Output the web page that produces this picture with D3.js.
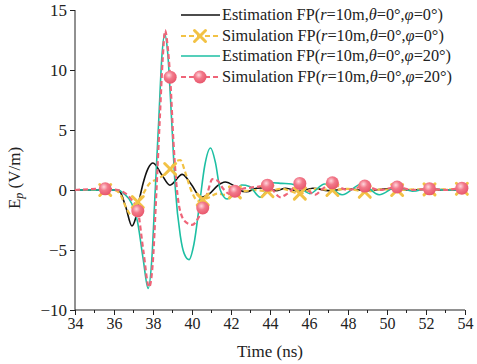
<!DOCTYPE html>
<html><head><meta charset="utf-8">
<script src="https://cdn.jsdelivr.net/npm/d3@7"></script>
<style>body{margin:0;background:#fff}svg{display:block}</style>
</head><body>
<script>
// ---- data ----
const xTicks = [34,36,38,40,42,44,46,48,50,52,54];
const yTicks = [-10,-5,0,5,10,15];

const estPhi0 = [[34,0],[35,0],[36,0],[36.3,-0.15],[36.6,-1.4],[36.92,-3.0],[37.1,-2.4],[37.3,-0.8],[37.5,0.6],[37.75,1.8],[38.0,2.25],[38.46,1.25],[38.87,0.4],[39.5,1.3],[39.95,0.5],[40.45,-0.6],[40.9,-0.3],[41.3,0.35],[41.7,0.67],[42.1,0.4],[42.4,0],[42.8,-0.15],[43.3,0.15],[43.8,0.2],[44.3,-0.05],[44.8,0.15],[45.5,-0.1],[46.2,0.15],[47,-0.05],[48,0.1],[49,-0.05],[50,0.1],[51,0],[52,0.05],[53,0],[54,0]];

const simPhi0 = [[34,0],[35.55,0],[36.0,0],[36.3,-0.3],[36.6,-1.4],[36.9,-2.1],[37.22,-1.0],[37.5,-0.3],[37.8,0.5],[38.2,0.9],[38.6,1.3],[38.88,1.75],[39.2,2.4],[39.4,2.5],[39.65,1.5],[39.95,0],[40.3,-0.9],[40.55,-0.8],[40.9,-0.6],[41.3,-0.3],[41.7,-0.4],[42.2,-0.2],[42.7,-0.1],[43.2,0],[43.87,-0.1],[44.6,0.1],[45.53,-0.3],[46.3,0.1],[47.2,0],[48.0,0.1],[48.86,-0.15],[49.7,0.05],[50.52,0],[51.4,0.05],[52.18,0.05],[53,0.05],[53.84,0.1],[54,0.05]];

const estPhi20 = [[34,0],[36.2,0],[36.5,-0.3],[36.9,-1.1],[37.2,-2.6],[37.5,-5.8],[37.75,-8.2],[37.95,-5.5],[38.1,-0.5],[38.3,6],[38.45,11],[38.6,13.0],[38.75,11.5],[38.95,6],[39.15,0],[39.4,-3.8],[39.6,-5.3],[39.85,-5.8],[40.1,-4.5],[40.4,-1],[40.65,2],[40.95,3.5],[41.2,2.3],[41.45,0],[41.8,-0.75],[42.15,-0.3],[42.55,0.42],[42.95,0.3],[43.5,-0.6],[44.15,0.6],[44.6,0.55],[45.1,0.5],[45.5,0.25],[46.05,-0.3],[46.8,0.5],[47.7,-0.4],[48.7,0.5],[49.6,-0.4],[50.5,0.25],[51.3,-0.1],[52.2,0.15],[53,0],[54,0]];

const simPhi20 = [[34,0],[35.55,0.1],[36.2,0],[36.5,-0.2],[36.9,-0.8],[37.22,-1.75],[37.5,-5],[37.8,-8.1],[38.0,-5.8],[38.15,-1],[38.35,6],[38.5,11],[38.62,13.3],[38.75,12],[38.88,9.4],[39.05,4],[39.2,0.5],[39.4,-1.8],[39.7,-2.7],[40.0,-2.9],[40.3,-2.4],[40.55,-1.5],[40.8,-0.2],[41.05,0.9],[41.3,0.8],[41.6,0.1],[41.9,-0.3],[42.2,-0.1],[42.6,0.1],[43.0,0.2],[43.5,0.3],[43.87,0.4],[44.2,-0.1],[44.5,-0.6],[44.9,-0.3],[45.53,0.55],[46.0,-0.1],[46.3,-0.4],[46.7,0.1],[47.2,0.6],[47.6,0.2],[48.0,0],[48.86,0.33],[49.6,0],[50.52,0.25],[51.3,0],[52.18,0.1],[53,0],[53.84,0.15],[54,0.1]];

const markerTimes = [35.55,37.22,38.88,40.55,42.2,43.87,45.53,47.2,48.86,50.52,52.18,53.84];
const markerSimPhi0 = [0,-1.0,1.75,-0.8,-0.2,-0.1,-0.3,0,-0.15,0,0.05,0.1];
const markerSimPhi20 = [0.1,-1.75,9.4,-1.5,-0.1,0.4,0.55,0.6,0.33,0.25,0.1,0.15];

const legendLabels = [
  ["Estimation FP(", "r", "=10m,", "θ", "=0°,", "φ", "=0°)"],
  ["Simulation FP(", "r", "=10m,", "θ", "=0°,", "φ", "=0°)"],
  ["Estimation FP(", "r", "=10m,", "θ", "=0°,", "φ", "=20°)"],
  ["Simulation FP(", "r", "=10m,", "θ", "=0°,", "φ", "=20°)"]
];

// ---- drawing ----
const W = 477, H = 364;
const svg = d3.select("body").append("svg").attr("width", W).attr("height", H);
const font = "'Liberation Serif','Times New Roman',serif";

const x = d3.scaleLinear().domain([34,54]).range([75,465]);
const y = d3.scaleLinear().domain([-10,15]).range([310,10]);

const cBlack = "#111", cYellow = "#F2C245", cCyan = "#1DBFA3", cPink = "#EF6478";

const defs = svg.append("defs");
const grad = defs.append("radialGradient").attr("id","ball").attr("cx","40%").attr("cy","35%").attr("r","65%");
grad.append("stop").attr("offset","0%").attr("stop-color","#ffd6dc");
grad.append("stop").attr("offset","45%").attr("stop-color","#f2798a");
grad.append("stop").attr("offset","100%").attr("stop-color","#e8576c");

// axes
const xAxis = d3.axisBottom(x).tickValues(xTicks).tickSize(5).tickPadding(3).tickFormat(d3.format("d"));
const gx = svg.append("g").attr("transform", `translate(0,${y(-10)})`).call(xAxis);
gx.selectAll("line").attr("stroke","#222");
gx.select(".domain").attr("stroke","#222").attr("d", `M${x(34)},0H${x(54)}`);
gx.selectAll("text").attr("font-family", font).attr("font-size", 16).attr("fill","#222");
// minor x ticks
svg.append("g").selectAll("line").data(d3.range(35,54,2)).join("line")
  .attr("x1", d=>x(d)).attr("x2", d=>x(d)).attr("y1", y(-10)).attr("y2", y(-10)+3).attr("stroke","#222");

const yAxis = d3.axisLeft(y).tickValues(yTicks).tickSize(5).tickPadding(3);
const gy = svg.append("g").attr("transform", `translate(${x(34)},0)`).call(yAxis);
gy.selectAll("line").attr("stroke","#222");
gy.select(".domain").attr("stroke","#222").attr("d", `M0,${y(15)}V${y(-10)}`);
gy.selectAll("text").attr("font-family", font).attr("font-size", 17).attr("fill","#222");

// axis titles
svg.append("text").attr("x", 270).attr("y", 357).attr("text-anchor","middle")
  .attr("font-family", font).attr("font-size", 17).attr("fill","#222").text("Time (ns)");
const yt = svg.append("text").attr("transform", `translate(20,178) rotate(-90)`).attr("text-anchor","middle")
  .attr("font-family", font).attr("font-size", 17).attr("fill","#222");
yt.append("tspan").text("E");
yt.append("tspan").attr("font-size", 12).attr("font-style","italic").attr("dy", 3).text("p");
yt.append("tspan").attr("dy", -3).text(" (V/m)");

const line = d3.line().x(d=>x(d[0])).y(d=>y(d[1])).curve(d3.curveMonotoneX);

function drawX(g, cx, cy) {
  const s = 5.5;
  g.append("path").attr("d", `M${cx-s},${cy-s}L${cx+s},${cy+s}M${cx-s},${cy+s}L${cx+s},${cy-s}`)
    .attr("stroke", cYellow).attr("stroke-width", 3).attr("stroke-linecap","round");
}
function drawBall(g, cx, cy) {
  g.append("circle").attr("cx", cx).attr("cy", cy).attr("r", 6.5).attr("fill","url(#ball)");
}

svg.append("path").datum(estPhi0).attr("d", line).attr("fill","none").attr("stroke", cBlack).attr("stroke-width", 1.6);
svg.append("path").datum(simPhi0).attr("d", line).attr("fill","none").attr("stroke", cYellow).attr("stroke-width", 2.2).attr("stroke-dasharray","5,3");
svg.append("path").datum(estPhi20).attr("d", line).attr("fill","none").attr("stroke", cCyan).attr("stroke-width", 1.6);
svg.append("path").datum(simPhi20).attr("d", line).attr("fill","none").attr("stroke", cPink).attr("stroke-width", 2.2).attr("stroke-dasharray","5,3");

const gm = svg.append("g");
markerTimes.forEach((t,i)=> drawX(gm, x(t), y(markerSimPhi0[i])));
markerTimes.forEach((t,i)=> drawBall(gm, x(t), y(markerSimPhi20[i])));

// legend
const lg = svg.append("g");
const rowsY = [15, 36, 56, 77];
const styles = [
  {c:cBlack, w:1.6, dash:null, m:null},
  {c:cYellow, w:2.2, dash:"5,3", m:"x"},
  {c:cCyan, w:1.6, dash:null, m:null},
  {c:cPink, w:2.2, dash:"5,3", m:"o"}
];
legendLabels.forEach((parts,i)=>{
  const yy = rowsY[i], st = styles[i];
  lg.append("line").attr("x1",181).attr("x2",220).attr("y1",yy).attr("y2",yy)
    .attr("stroke", st.c).attr("stroke-width", st.w).attr("stroke-dasharray", st.dash);
  if (st.m === "x") drawX(lg, 200, yy);
  if (st.m === "o") drawBall(lg, 200, yy);
  const t = lg.append("text").attr("x", 222).attr("y", yy+5).attr("font-family", font).attr("font-size", 16.3).attr("fill","#222");
  parts.forEach((p,j)=> t.append("tspan").attr("font-style", j%2===1 ? "italic" : "normal").text(p));
});
</script>
</body></html>
